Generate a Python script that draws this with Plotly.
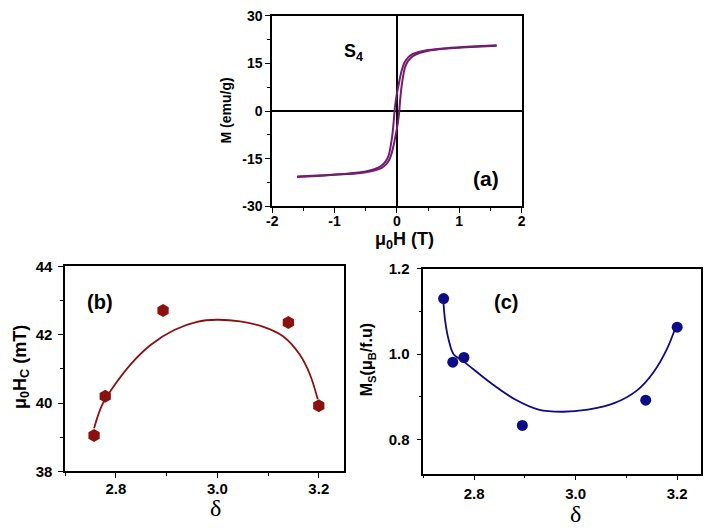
import plotly.graph_objects as go

W, H = 708, 531

# ---- panel (a): hysteresis loop of S4 ----
H_desc = [1.6, 1.2, 0.8, 0.5, 0.35, 0.25, 0.18, 0.12, 0.08, 0.05, 0.02, 0.0, -0.02, -0.038,
          -0.05, -0.07, -0.1, -0.13, -0.18, -0.25, -0.35, -0.5, -0.8, -1.2, -1.6]
M_desc = [20.7, 20.3, 19.8, 19.2, 18.6, 17.9, 16.9, 15.2, 13.0, 10.5, 7.5, 5.5, 3.0, 0.0,
          -3.0, -7.0, -11.0, -13.8, -15.8, -17.2, -18.2, -19.0, -19.7, -20.2, -20.6]
H_asc = [-1.6, -1.2, -0.8, -0.5, -0.35, -0.25, -0.18, -0.12, -0.08, -0.05, -0.02, 0.0, 0.02, 0.038,
         0.05, 0.07, 0.1, 0.13, 0.18, 0.25, 0.35, 0.5, 0.8, 1.2, 1.6]
M_asc = [-20.7, -20.3, -19.8, -19.2, -18.6, -17.9, -16.9, -15.2, -13.0, -10.5, -7.5, -5.5, -3.0, 0.0,
         3.0, 7.0, 11.0, 13.8, 15.8, 17.2, 18.2, 19.0, 19.7, 20.2, 20.6]
a_xticks = [-2, -1, 0, 1, 2]
a_xlabels = ["-2", "-1", "0", "1", "2"]
a_yticks = [-30, -15, 0, 15, 30]
a_ylabels = ["-30", "-15", "0", "15", "30"]

# ---- panel (b): coercivity vs delta ----
delta_b = [2.757, 2.779, 2.893, 3.140, 3.200]
Hc_b = [39.05, 40.20, 42.71, 42.36, 39.92]
fit_b_x = [2.757, 2.772, 2.791, 2.830, 2.869, 2.915, 2.960, 2.999, 3.045, 3.091, 3.130, 3.162, 3.182, 3.198]
fit_b_y = [39.26, 39.92, 40.39, 41.15, 41.71, 42.14, 42.38, 42.44, 42.39, 42.23, 41.95, 41.43, 40.86, 40.11]

# ---- panel (c): saturation moment vs delta ----
delta_c = [2.740, 2.758, 2.780, 2.895, 3.138, 3.200]
Ms_c = [1.130, 0.981, 0.992, 0.833, 0.892, 1.063]
fit_c_x = [2.739, 2.743, 2.750, 2.760, 2.779, 2.831, 2.882, 2.927, 2.973, 3.024, 3.076, 3.121, 3.153, 3.179, 3.197]
fit_c_y = [1.131, 1.078, 1.033, 0.999, 0.983, 0.934, 0.893, 0.870, 0.865, 0.870, 0.885, 0.915, 0.957, 1.010, 1.063]

FONT = "Arial, Liberation Sans, sans-serif"
PURPLE = "#741c6f"
RED = "#8b1010"
NAVY = "#0c0c86"


def px_x(x):
    return x / W


def px_y(y):
    return 1 - y / H


fig = go.Figure()

fig.add_trace(go.Scatter(x=H_desc, y=M_desc, mode="lines", line=dict(color=PURPLE, width=2.0, shape="spline", smoothing=0.6),
                         xaxis="x", yaxis="y", showlegend=False))
fig.add_trace(go.Scatter(x=H_asc, y=M_asc, mode="lines", line=dict(color=PURPLE, width=2.0, shape="spline", smoothing=0.6),
                         xaxis="x", yaxis="y", showlegend=False))

fig.add_trace(go.Scatter(x=fit_b_x, y=fit_b_y, mode="lines", line=dict(color=RED, width=1.8, shape="spline"),
                         xaxis="x2", yaxis="y2", showlegend=False))
fig.add_trace(go.Scatter(x=delta_b, y=Hc_b, mode="markers", marker=dict(symbol="hexagon", size=13, color=RED),
                         xaxis="x2", yaxis="y2", showlegend=False))

fig.add_trace(go.Scatter(x=fit_c_x, y=fit_c_y, mode="lines", line=dict(color=NAVY, width=1.8, shape="spline"),
                         xaxis="x3", yaxis="y3", showlegend=False))
fig.add_trace(go.Scatter(x=delta_c, y=Ms_c, mode="markers", marker=dict(symbol="circle", size=11, color=NAVY),
                         xaxis="x3", yaxis="y3", showlegend=False))


def ax(domain, rng, dtick, minor_dtick, anchor, size, standoff=0, zeroline=False):
    return dict(domain=domain, range=rng, dtick=dtick, tick0=0, anchor=anchor,
                showline=True, linecolor="black", linewidth=1.6, mirror=True,
                ticks="outside", ticklen=5, tickwidth=1.4, tickcolor="black",
                ticklabelstandoff=standoff, tickprefix="<b>", ticksuffix="</b>",
                minor=dict(dtick=minor_dtick, ticks="outside", ticklen=3, tickwidth=1.2, tickcolor="black"),
                showgrid=False, zeroline=zeroline, zerolinecolor="black", zerolinewidth=1.6,
                tickfont=dict(family=FONT, size=size, color="black", weight="bold"),
                title=None)


xa = ax([270 / W, 523 / W], [-2, 2], 1, 0.5, "y", 14, standoff=-4, zeroline=True)
xa.update(tickmode="array", tickvals=a_xticks, ticktext=a_xlabels)
ya = ax([px_y(204), px_y(7)], [-30, 30], 15, 7.5, "x", 14, standoff=0, zeroline=True)
ya.update(tickmode="array", tickvals=a_yticks, ticktext=a_ylabels)

fig.update_layout(
    width=W, height=H, margin=dict(l=0, r=0, t=0, b=0),
    paper_bgcolor="white", plot_bgcolor="white",
    xaxis=xa,
    yaxis=ya,
    xaxis2=ax([60 / W, 343 / W], [2.7, 3.25], 0.2, 0.1, "y2", 15, standoff=-2),
    yaxis2=ax([px_y(477.7), px_y(266)], [38, 44], 2, 1, "x2", 15, standoff=3),
    xaxis3=ax([423.3 / W, 705 / W], [2.7, 3.247], 0.2, 0.1, "y3", 15, standoff=1),
    yaxis3=ax([px_y(480), px_y(268.3)], [0.72, 1.2], 0.2, 0.1, "x3", 15, standoff=4),
)
fig.update_layout(xaxis2_tickformat=".1f", xaxis3_tickformat=".1f", yaxis3_tickformat=".1f")

annots = [
    # panel (a)
    dict(x=px_x(223), y=px_y(105), text="<b>M (emu/g)</b>", textangle=-90, size=14),
    dict(x=px_x(404), y=px_y(239), text="<b>μ<sub>0</sub>H (T)</b>", size=18),
    dict(x=px_x(352), y=px_y(45), text="<b>S<sub>4</sub></b>", size=18),
    dict(x=px_x(487), y=px_y(175), text="<b>(a)</b>", size=21),
    # panel (b)
    dict(x=px_x(15), y=px_y(370), text="<b>μ<sub>0</sub>H<sub>C</sub> (mT)</b>", textangle=-90, size=18),
    dict(x=px_x(213), y=px_y(515), text="δ", size=24, family="Liberation Serif, Times New Roman, serif"),
    dict(x=px_x(95), y=px_y(303), text="<b>(b)</b>", size=20),
    # panel (c)
    dict(x=px_x(367), y=px_y(362), text="<b>M<sub>S</sub>(μ<sub>B</sub>/f.u)</b>", textangle=-90, size=16),
    dict(x=px_x(578), y=px_y(522), text="δ", size=24, family="Liberation Serif, Times New Roman, serif"),
    dict(x=px_x(507), y=px_y(303), text="<b>(c)</b>", size=20),
]
for a in annots:
    fig.add_annotation(x=a["x"], y=a["y"], xref="paper", yref="paper", text=a["text"], showarrow=False,
                       textangle=a.get("textangle", 0), xanchor="center", yanchor="middle",
                       font=dict(family=a.get("family", FONT), size=a["size"], color="black"))

fig.write_html("out.html")
